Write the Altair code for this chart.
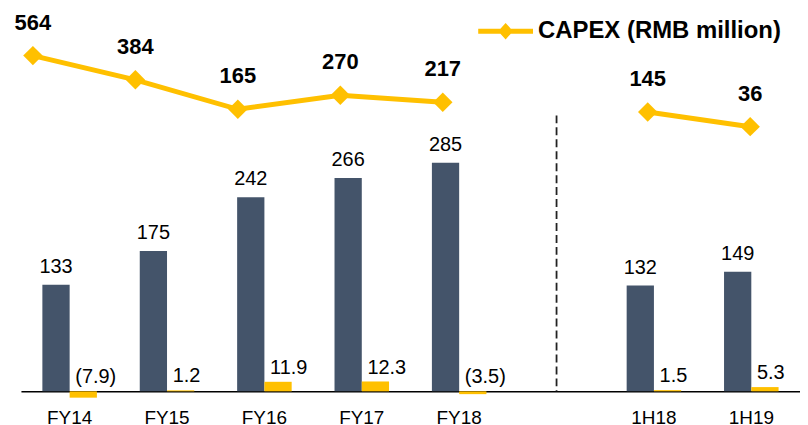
import altair as alt
import pandas as pd

# ---- data ----
categories = ["FY14", "FY15", "FY16", "FY17", "FY18", "1H18", "1H19"]
x_order = ["FY14", "FY15", "FY16", "FY17", "FY18", " ", "1H18", "1H19"]
main_values = [133, 175, 242, 266, 285, 132, 149]
small_values = [-7.9, 1.2, 11.9, 12.3, -3.5, 1.5, 5.3]
small_labels = ["(7.9)", "1.2", "11.9", "12.3", "(3.5)", "1.5", "5.3"]
capex_values = [564, 384, 165, 270, 217, 145, 36]
capex_segment = ["FY", "FY", "FY", "FY", "FY", "H", "H"]
legend_name = "CAPEX (RMB million)"

FONT = "Liberation Sans"
DARK = "#44546A"
YELLOW = "#FFC000"

bar_df = pd.DataFrame({
    "cat": categories * 2,
    "series": ["main"] * len(categories) + ["small"] * len(categories),
    "value": main_values + small_values,
    "label": [str(v) for v in main_values] + small_labels,
})
line_df = pd.DataFrame({
    "cat": categories,
    "value": capex_values,
    "seg": capex_segment,
    "legend": [legend_name] * len(categories),
})
sep_df = pd.DataFrame({"cat": [" "]})

x_bar = alt.X(
    "cat:N",
    sort=x_order,
    scale=alt.Scale(domain=x_order, paddingInner=0.44, paddingOuter=0.22),
    axis=alt.Axis(title=None, labelAngle=0, ticks=False, tickSize=0,
                  labelPadding=17, labelFontSize=19, labelColor="#000000",
                  labelFont=FONT, domainColor="#000000", domainWidth=1.5,
                  grid=False),
)
x_off = alt.XOffset("series:N", scale=alt.Scale(domain=["main", "small"], paddingInner=0, paddingOuter=0))
y_bar = alt.Y("value:Q", scale=alt.Scale(domain=[0, 477], nice=False, zero=True), axis=None)

bars = alt.Chart(bar_df).mark_bar().encode(
    x=x_bar,
    xOffset=x_off,
    y=y_bar,
    color=alt.Color("series:N", scale=alt.Scale(domain=["main", "small"], range=[DARK, YELLOW]), legend=None),
)

main_text = alt.Chart(bar_df).transform_filter("datum.series == 'main'").mark_text(
    dy=-12, baseline="alphabetic", fontSize=20, font=FONT, color="#000000"
).encode(x=x_bar, xOffset=x_off, y=y_bar, text="label:N")

small_text = alt.Chart(bar_df).transform_filter("datum.series == 'small'").transform_calculate(
    ylab="max(datum.value, 0)"
).mark_text(
    dy=-8, dx=-8, align="left", baseline="alphabetic", fontSize=20, font=FONT, color="#000000"
).encode(
    x=x_bar, xOffset=x_off,
    y=alt.Y("ylab:Q", scale=alt.Scale(domain=[0, 477], nice=False, zero=True), axis=None),
    text="label:N",
)

separator = alt.Chart(sep_df).mark_rule(strokeDash=[8, 4], strokeWidth=1.8, color="#222222").encode(
    x=x_bar, y=alt.value(107), y2=alt.value(384)
)

bar_layer = alt.layer(bars, main_text, small_text, separator)

x_line = alt.X("cat:N", sort=x_order,
               scale=alt.Scale(type="point", domain=x_order, range=[12, 732], padding=0),
               axis=None)
y_line = alt.Y("value:Q", scale=alt.Scale(domain=[-1931, 912], nice=False, zero=False), axis=None)
path = "M-1,-0.09L-0.19,-0.09L0,-0.3L0.19,-0.09L1,-0.09L1,0.09L0.19,0.09L0,0.3L-0.19,0.09L-1,0.09Z"
color_line = alt.Color(
    "legend:N",
    scale=alt.Scale(domain=[legend_name], range=[YELLOW]),
    legend=alt.Legend(
        title=None, orient="none", legendX=459, legendY=-5, padding=0,
        symbolType=path, symbolSize=3025, symbolFillColor=YELLOW,
        symbolStrokeWidth=0, symbolOpacity=1, labelOffset=5,
        labelFontSize=24, labelFontWeight="bold", labelColor="#000000",
        labelFont=FONT, labelLimit=400,
    ),
)

line = alt.Chart(line_df).mark_line(strokeWidth=5).encode(
    x=x_line, y=y_line, color=color_line, detail="seg:N"
)
points = alt.Chart(line_df).mark_point(shape="diamond", filled=True, size=380, opacity=1).encode(
    x=x_line, y=y_line, color=color_line
)
line_text = alt.Chart(line_df).mark_text(
    dy=-26, baseline="alphabetic", fontSize=22, fontWeight="bold", font=FONT, color="#000000"
).encode(x=x_line, y=y_line, text="value:Q")

line_layer = alt.layer(line, points, line_text)

chart = alt.layer(bar_layer, line_layer).resolve_scale(
    x="independent", y="independent", color="independent"
).properties(
    width=782, height=384,
    padding={"left": 13, "top": 0, "right": 0, "bottom": 33},
    autosize=alt.AutoSizeParams(type="none"),
    background="white",
).configure_view(stroke=None)

chart.save("out.html", embed_options={"renderer": "svg", "actions": False})
